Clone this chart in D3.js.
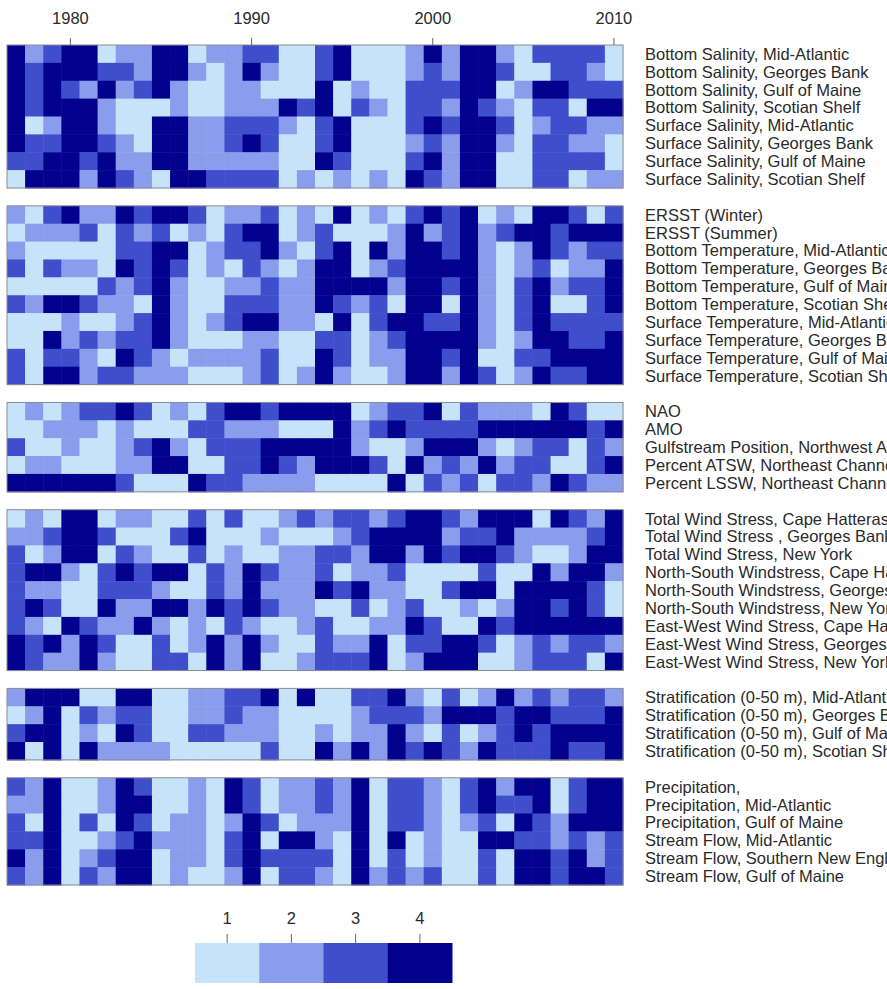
<!DOCTYPE html>
<html>
<head>
<meta charset="utf-8">
<script src="https://cdn.jsdelivr.net/npm/d3@7"></script>
<style>
  html, body { margin: 0; padding: 0; background: #fff; overflow: hidden; }
  svg { display: block; }
  text { font-family: "Liberation Sans", Arial, sans-serif; }
</style>
</head>
<body>
<svg id="chart" width="887" height="989"></svg>
<script>
// Years covered by every row of the heat map
const years = d3.range(1977, 2011);
const yearTicks = [1980, 1990, 2000, 2010];
const legendLevels = [1, 2, 3, 4];

// Salinity block
const salinityLabels = [
  "Bottom Salinity, Mid-Atlantic",
  "Bottom Salinity, Georges Bank",
  "Bottom Salinity, Gulf of Maine",
  "Bottom Salinity, Scotian Shelf",
  "Surface Salinity, Mid-Atlantic",
  "Surface Salinity, Georges Bank",
  "Surface Salinity, Gulf of Maine",
  "Surface Salinity, Scotian Shelf"
];
const salinity = [
  [4,2,3,4,4,1,2,2,4,4,1,2,2,3,3,1,1,3,4,1,1,1,2,4,2,4,4,2,1,3,3,3,3,1],
  [4,3,4,4,4,3,3,2,4,4,2,1,2,4,2,1,1,3,4,1,1,1,2,3,2,4,4,3,1,1,3,3,2,1],
  [4,3,4,3,2,4,2,3,4,2,1,1,2,2,1,1,1,4,1,2,1,1,3,3,3,4,4,1,2,4,4,3,3,3],
  [4,3,4,4,4,2,1,1,1,2,1,1,2,2,2,4,3,4,1,3,2,1,3,3,2,4,3,2,1,3,3,1,4,4],
  [4,1,2,4,4,2,1,1,4,4,2,2,3,3,3,2,1,3,4,1,1,1,3,4,3,4,4,3,1,2,3,3,2,2],
  [4,3,3,4,4,3,2,1,4,4,2,2,3,4,3,1,1,3,4,1,1,1,2,3,2,4,4,2,1,3,3,2,2,1],
  [3,3,4,4,3,4,2,2,4,4,2,2,2,2,2,1,1,4,3,1,1,1,3,4,2,4,4,1,1,3,3,3,3,1],
  [1,4,4,4,2,4,3,2,1,4,4,3,3,3,3,1,2,1,2,1,2,1,4,3,2,4,4,1,1,3,3,1,2,2]
];

// Temperature block
const temperatureLabels = [
  "ERSST (Winter)",
  "ERSST (Summer)",
  "Bottom Temperature, Mid-Atlantic",
  "Bottom Temperature, Georges Bank",
  "Bottom Temperature, Gulf of Maine",
  "Bottom Temperature, Scotian Shelf",
  "Surface Temperature, Mid-Atlantic",
  "Surface Temperature, Georges Bank",
  "Surface Temperature, Gulf of Maine",
  "Surface Temperature, Scotian Shelf"
];
const temperature = [
  [2,1,3,4,2,2,4,3,4,4,3,1,2,2,3,1,2,1,4,1,2,1,3,4,3,4,1,2,1,4,4,3,1,3],
  [1,2,2,2,3,1,3,2,3,1,2,1,3,4,4,1,2,3,1,1,1,2,4,2,3,4,2,3,4,4,3,4,4,4],
  [2,1,1,1,1,1,3,3,4,4,1,2,3,3,4,2,1,3,4,1,4,2,4,4,3,4,2,1,2,4,3,2,3,3],
  [3,1,3,2,2,1,4,3,4,3,1,2,1,3,2,1,2,4,4,1,2,3,4,4,4,4,2,1,2,3,1,2,2,4],
  [1,1,1,1,1,3,2,3,4,2,1,1,2,2,3,2,2,4,4,4,4,2,4,4,3,4,2,1,3,4,2,3,3,4],
  [3,2,4,4,3,2,2,1,4,2,1,1,3,3,3,2,2,4,3,2,3,1,4,4,1,4,2,1,3,4,1,1,3,4],
  [1,1,1,2,1,1,2,3,4,2,1,2,3,4,4,2,2,1,4,1,3,4,4,3,3,4,2,1,3,4,3,3,3,3],
  [1,1,4,2,3,2,3,3,4,2,1,1,1,2,2,1,1,3,3,1,2,3,4,4,4,4,2,1,2,4,4,3,3,4],
  [3,1,3,3,2,1,4,3,2,1,2,2,2,2,3,1,1,4,3,1,2,2,4,4,3,4,1,1,3,3,4,4,4,4],
  [3,1,4,4,2,3,3,2,2,2,1,1,1,2,3,1,2,4,2,1,1,2,4,4,2,4,3,1,2,4,3,3,4,4]
];

// Circulation indices block
const circulationLabels = [
  "NAO",
  "AMO",
  "Gulfstream Position, Northwest Atlantic",
  "Percent ATSW, Northeast Channel",
  "Percent LSSW, Northeast Channel"
];
const circulation = [
  [1,2,1,2,3,3,4,3,1,2,1,3,4,4,3,4,4,4,4,1,2,3,3,4,1,3,2,2,2,1,4,3,1,1],
  [1,1,2,2,2,1,2,1,1,1,3,3,2,2,2,1,1,1,4,2,3,4,3,3,3,3,4,4,4,4,4,4,3,4],
  [3,1,1,2,1,1,2,3,4,2,1,3,3,3,4,4,4,4,4,2,1,1,2,4,4,4,2,1,2,3,3,1,3,2],
  [1,2,2,1,1,1,2,2,4,4,1,1,3,3,4,3,2,4,4,4,3,1,4,2,3,2,4,2,3,3,1,1,3,4],
  [4,4,4,4,4,4,3,1,1,1,4,3,3,2,2,2,2,1,1,1,1,4,1,3,2,3,1,3,3,2,4,3,2,2]
];

// Wind stress block
const windLabels = [
  "Total Wind Stress, Cape Hatteras",
  "Total Wind Stress , Georges Bank",
  "Total Wind Stress, New York",
  "North-South Windstress, Cape Hatteras",
  "North-South Windstress, Georges Bank",
  "North-South Windstress, New York",
  "East-West Wind Stress, Cape Hatteras",
  "East-West Wind Stress, Georges Bank",
  "East-West Wind Stress, New York"
];
const wind = [
  [1,2,1,4,4,1,2,2,1,1,3,1,3,1,1,2,3,2,3,3,2,3,4,4,3,2,4,4,4,1,4,3,2,4],
  [2,2,3,4,4,3,1,1,1,3,4,1,1,1,2,1,1,1,2,3,4,4,4,4,2,3,3,4,2,2,2,2,3,4],
  [3,1,2,4,4,1,3,2,1,1,3,1,2,1,1,2,2,3,3,2,4,4,2,4,3,4,4,3,2,1,1,2,4,4],
  [3,4,4,2,1,3,4,3,4,4,1,3,2,4,3,2,2,3,1,2,2,3,1,1,1,1,3,1,1,4,2,4,4,2],
  [3,2,2,1,1,3,3,3,2,1,1,3,2,4,2,2,2,4,3,4,2,2,1,1,3,4,4,1,4,4,4,4,3,1],
  [3,4,3,1,1,4,2,2,4,4,2,4,3,4,3,2,2,1,1,3,1,2,3,1,1,2,1,2,4,4,3,4,3,1],
  [3,2,1,4,3,2,2,4,2,1,2,1,3,2,1,1,2,3,1,1,2,2,4,3,1,1,4,3,4,4,4,4,4,4],
  [4,3,4,2,4,3,1,1,3,1,2,4,2,4,2,1,1,3,2,2,4,1,3,3,4,4,3,1,2,3,2,3,3,2],
  [4,3,2,2,4,2,1,1,3,3,1,4,2,4,1,1,2,3,3,3,4,1,2,4,4,4,1,1,2,3,3,3,1,4]
];

// Stratification block
const stratificationLabels = [
  "Stratification (0-50 m), Mid-Atlantic",
  "Stratification (0-50 m), Georges Bank",
  "Stratification (0-50 m), Gulf of Maine",
  "Stratification (0-50 m), Scotian Shelf"
];
const stratification = [
  [2,4,4,4,1,1,4,4,1,1,2,2,3,3,4,1,4,1,1,3,3,4,2,1,3,1,2,4,2,3,2,3,3,2],
  [1,2,4,1,3,2,3,3,1,1,2,2,3,2,2,1,1,1,1,2,3,3,3,2,4,4,4,3,4,4,3,3,3,4],
  [3,4,4,1,2,1,4,3,1,1,3,3,2,2,2,1,1,2,1,2,2,4,2,1,3,1,2,3,4,3,4,4,4,4],
  [4,1,4,1,4,2,2,2,2,1,1,1,1,1,3,1,1,4,2,4,2,4,3,4,3,2,4,3,3,3,4,3,3,4]
];

// Freshwater input block
const freshwaterLabels = [
  "Precipitation,",
  "Precipitation, Mid-Atlantic",
  "Precipitation, Gulf of Maine",
  "Stream Flow, Mid-Atlantic",
  "Stream Flow, Southern New England",
  "Stream Flow, Gulf of Maine"
];
const freshwater = [
  [3,2,4,1,1,2,4,3,1,1,2,1,4,3,1,2,2,3,2,4,1,3,3,2,1,3,4,2,4,4,1,3,4,4],
  [2,2,4,1,1,2,4,4,1,1,2,1,4,3,1,2,2,3,2,4,1,3,3,2,1,3,4,3,3,4,1,3,4,4],
  [3,1,4,1,3,1,4,3,1,2,2,1,2,4,3,1,2,2,2,4,1,3,3,2,1,2,3,1,4,3,2,4,4,4],
  [3,3,4,1,1,2,3,4,2,2,2,1,3,4,1,4,4,2,1,4,1,4,1,2,1,1,4,4,3,3,2,3,2,3],
  [4,2,4,1,2,3,4,4,1,2,2,1,3,4,3,3,3,3,1,4,1,3,1,2,1,1,3,1,4,4,3,4,2,3],
  [3,2,4,1,3,2,4,4,1,2,1,1,2,4,1,3,3,2,1,4,2,3,2,3,1,1,3,1,4,4,3,4,4,3]
];

const panels = [
  { labels: salinityLabels, values: salinity },
  { labels: temperatureLabels, values: temperature },
  { labels: circulationLabels, values: circulation },
  { labels: windLabels, values: wind },
  { labels: stratificationLabels, values: stratification },
  { labels: freshwaterLabels, values: freshwater }
];

const palette = ["#c6e3fa", "#8a9cec", "#3f4fcb", "#02028e"];
const color = d3.scaleOrdinal().domain(legendLevels).range(palette);
const textColor = "#2a2a2a";
const fontSize = 16.5;

// Give every row (and a blank spacer between blocks) one slot on a band scale
const slots = [];
panels.forEach((p, pi) => {
  p.labels.forEach((lab, ri) => slots.push(`p${pi}r${ri}`));
  if (pi < panels.length - 1) slots.push(`gap${pi}`);
});

const svg = d3.select("#chart");
const x = d3.scaleBand().domain(years).range([7, 623]);
const y = d3.scaleBand().domain(slots).range([45, 885]);

panels.forEach((p, pi) => {
  const g = svg.append("g");
  p.values.forEach((row, ri) => {
    g.selectAll(null)
      .data(row.map((v, i) => ({ year: years[i], v })))
      .join("rect")
      .attr("x", d => x(d.year))
      .attr("y", y(`p${pi}r${ri}`))
      .attr("width", x.bandwidth() + 0.5)
      .attr("height", y.bandwidth() + 0.5)
      .attr("fill", d => color(d.v));
  });
  const top = y(`p${pi}r0`);
  const bottom = y(`p${pi}r${p.labels.length - 1}`) + y.bandwidth();
  g.append("rect")
    .attr("x", x.range()[0]).attr("y", top)
    .attr("width", x.range()[1] - x.range()[0]).attr("height", bottom - top)
    .attr("fill", "none").attr("stroke", "#8a8a96").attr("stroke-width", 1);

  // Row names run on past the right edge of the page, as in the printed figure
  svg.append("g")
    .selectAll("text")
    .data(p.labels)
    .join("text")
    .attr("x", 645)
    .attr("y", (d, ri) => y(`p${pi}r${ri}`) + y.bandwidth() / 2)
    .attr("dy", "0.36em")
    .attr("font-size", fontSize)
    .attr("fill", textColor)
    .text(d => d);
});

// Year axis along the top of the first block
const xAxis = svg.append("g")
  .attr("transform", `translate(0,${y("p0r0")})`)
  .call(d3.axisTop(x).tickValues(yearTicks).tickSize(7).tickPadding(14));
xAxis.select(".domain").remove();
xAxis.selectAll("line").attr("stroke", "#666");
xAxis.selectAll("text").attr("font-size", fontSize).attr("fill", textColor)
  .attr("font-family", "Liberation Sans, Arial, sans-serif");

// Colour key
const lx = d3.scaleBand().domain(legendLevels).range([195, 452]);
svg.append("g").selectAll("rect")
  .data(legendLevels)
  .join("rect")
  .attr("x", d => lx(d))
  .attr("y", 943)
  .attr("width", lx.bandwidth() + 0.5)
  .attr("height", 40)
  .attr("fill", d => color(d));
const lAxis = svg.append("g")
  .attr("transform", "translate(0,943)")
  .call(d3.axisTop(lx).tickSize(9).tickPadding(10));
lAxis.select(".domain").remove();
lAxis.selectAll("line").attr("stroke", "#666");
lAxis.selectAll("text").attr("font-size", fontSize).attr("fill", textColor)
  .attr("font-family", "Liberation Sans, Arial, sans-serif");
</script>
</body>
</html>
